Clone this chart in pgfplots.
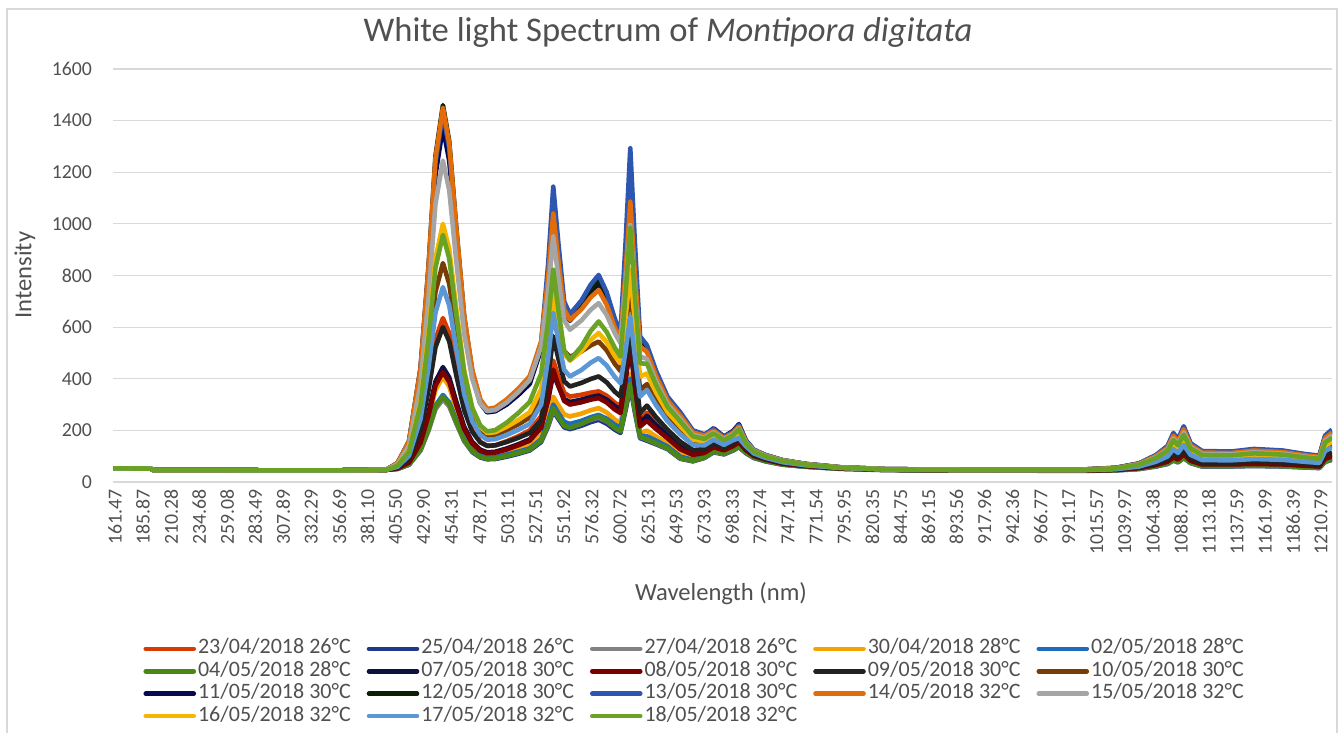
\documentclass[border=0pt]{standalone}
\usepackage{pgfplots}
\pgfplotsset{compat=1.18}
\usepackage{pgfplotstable}
\usepackage{fontspec}
\setmainfont{Carlito}
\definecolor{txt}{RGB}{80,80,80}
\definecolor{gridc}{RGB}{217,217,217}
\definecolor{cA}{RGB}{216,59,1}
\definecolor{cB}{RGB}{32,56,140}
\definecolor{cC}{RGB}{130,130,130}
\definecolor{cD}{RGB}{244,162,0}
\definecolor{cE}{RGB}{30,106,188}
\definecolor{cF}{RGB}{75,135,20}
\definecolor{cG}{RGB}{14,16,66}
\definecolor{cH}{RGB}{122,0,0}
\definecolor{cI}{RGB}{34,34,34}
\definecolor{cJ}{RGB}{120,60,5}
\definecolor{cK}{RGB}{5,10,82}
\definecolor{cL}{RGB}{12,30,6}
\definecolor{cM}{RGB}{44,86,176}
\definecolor{cN}{RGB}{227,108,10}
\definecolor{cO}{RGB}{165,165,165}
\definecolor{cP}{RGB}{246,182,0}
\definecolor{cQ}{RGB}{91,150,213}
\definecolor{cR}{RGB}{106,163,36}

\pgfplotstableread{
x A B C D E F G H I J K L M N O P Q R
161.47 53 53 53 53 53 53 53 53 53 53 53 53 53 53 53 53 53 53
194 52 52 52 52 52 52 52 52 52 52 52 52 52 52 52 52 52 52
197 46 46 46 46 46 46 46 46 46 46 46 46 46 46 46 46 46 46
254 46 46 46 46 46 46 46 46 46 46 46 46 46 46 46 46 46 46
304 45 45 45 45 45 45 45 45 45 45 45 45 45 45 45 45 45 45
354 45 45 45 45 45 45 45 45 45 45 45 45 45 45 45 45 45 45
399 47 47 47 47 47 47 47 47 47 47 47 47 47 47 47 47 47 47
409 57 51 51 52 51 51 53 53 56 61 72 73 73 73 69 64 59 63
419 92 67 67 74 68 68 77 75 89 109 151 158 156 157 141 121 102 118
429 210 123 122 146 127 125 157 152 200 270 417 441 433 438 381 312 244 300
436 375 202 199 248 209 205 269 258 356 495 790 837 821 832 717 580 443 556
442 552 286 282 356 296 290 389 373 522 736 1189 1262 1236 1253 1077 866 656 829
448.5 635 325 320 407 337 330 445 426 600 848 1375 1460 1430 1450 1245 1000 755 957
454 576 297 293 370 308 301 405 388 545 768 1244 1320 1293 1311 1130 903 684 866
460 437 230 229 284 240 234 313 300 416 581 937 992 972 988 861 676 519 653
467 289 159 160 192 168 162 214 206 278 380 609 641 629 642 573 433 341 424
474 199 116 119 137 124 119 155 150 195 260 411 430 422 434 400 287 235 287
481 155 95 99 109 102 97 125 121 154 200 305 315 309 320 304 214 182 219
487 140 88 92 100 95 90 115 112 140 180 270 278 275 283 275 190 164 196
494 142 89 93 102 96 91 117 114 142 183 274 282 280 288 279 193 166 201
504 158 98 103 112 106 101 130 126 155 201 300 312 310 320 308 214 182 230
514 177 109 114 125 117 112 146 142 171 223 337 350 351 361 348 240 202 267
524 200 122 128 140 130 125 165 160 190 250 380 395 400 410 395 270 225 310
534 255 155 162 180 165 160 215 210 240 330 515 530 540 545 525 360 300 420
540 363 215 221 255 233 223 318 323 403 515 748 775 842 793 738 545 478 621
544.5 470 275 280 330 300 286 420 435 565 700 980 1020 1144 1040 951 730 655 822
549 407 244 251 296 266 252 371 374 477 603 820 849 922 855 789 613 544 665
554 345 212 222 262 233 218 321 314 390 507 661 678 699 669 626 496 434 508
559 331 205 215 254 225 210 310 300 370 485 625 640 650 628 590 470 409 473
569 338 218 227 265 237 225 319 309 384 506 676 689 703 669 626 507 434 525
577 346 232 241 278 251 243 329 319 399 529 734 745 764 715 667 550 462 585
584 351 241 250 286 260 254 335 325 409 544 770 780 802 744 693 577 480 622
591 334 226 235 269 245 237 319 308 386 510 706 714 735 686 647 542 451 581
598 307 203 212 242 222 210 294 281 350 458 609 615 633 599 577 489 407 520
603 293 190 200 228 210 196 280 267 331 430 555 560 577 551 538 460 383 486
607.5 427 280 295 324 305 288 400 403 461 595 778 805 935 819 767 640 512 736
611.5 560 370 390 420 400 380 520 538 590 760 1000 1050 1293 1086 996 820 640 985
615.5 400 270 283 305 290 279 375 377 429 559 770 798 928 806 741 615 486 723
620 240 170 175 190 180 177 230 215 267 357 540 545 564 525 486 409 331 460
626 268 160 164 199 177 165 256 237 296 379 514 518 530 504 477 420 357 458
634 229 146 149 176 160 150 220 205 251 314 418 420 430 410 389 346 297 375
644 186 127 129 149 137 130 180 169 202 247 321 323 330 316 301 270 235 291
655 142 90 92 109 98 92 136 127 156 196 262 264 270 257 244 216 185 235
666 115 80 82 93 86 82 111 105 124 151 195 196 200 192 183 164 144 177
676 120 93 95 103 98 95 117 113 127 148 181 182 185 179 172 158 142 167
684 142 115 117 126 121 118 140 135 149 169 208 202 205 199 192 179 164 188
693 128 107 109 116 112 110 126 123 133 148 176 173 175 170 166 155 144 162
701 145 122 124 132 127 125 142 139 150 166 198 193 195 190 185 174 162 181
706 161 135 137 146 141 138 158 154 168 186 224 217 220 214 208 195 170 204
712 128 112 114 119 116 115 126 124 131 141 162 158 160 157 153 146 139 151
719 103 93 95 98 96 95 102 101 106 113 124 124 125 123 121 116 111 119
729 88 80 82 84 83 82 88 87 90 95 104 104 105 103 102 98 94 100
744 73 67 68 70 69 68 72 71 74 78 84 84 85 84 83 80 77 82
764 63 59 60 61 60 60 62 62 64 66 70 70 70 69 69 67 65 68
794 54 51 52 52 52 52 53 53 54 55 57 57 57 57 56 55 55 56
834 48 46 47 47 47 47 48 48 48 49 50 50 50 50 50 49 49 49
904 46 45 45 45 45 45 45 45 46 46 47 47 47 47 47 46 46 47
1004 45 43 44 44 44 44 45 44 45 46 48 48 48 48 47 46 46 47
1034 47 45 46 46 46 46 47 47 48 50 54 55 55 54 53 51 50 53
1054 55 50 51 53 52 52 55 54 57 61 71 71 72 70 68 64 60 67
1069 69 60 61 63 62 62 68 66 72 82 102 103 105 101 96 88 79 93
1079 83 70 71 74 72 72 81 79 88 104 136 137 140 133 126 113 99 122
1084 102 83 84 89 86 85 99 95 109 134 183 185 190 179 169 148 127 162
1088 92 76 77 81 79 78 90 87 98 118 160 161 165 156 147 130 113 142
1093 115 93 94 99 96 95 112 107 123 151 208 210 216 204 192 167 143 183
1099 87 73 74 78 76 75 85 82 92 110 145 146 150 142 135 120 105 130
1109 71 60 61 64 63 62 70 68 75 89 116 117 120 114 108 97 85 104
1134 71 60 61 64 63 62 70 68 75 88 115 115 118 112 107 96 84 103
1154 74 62 63 66 65 64 73 70 79 94 124 125 128 122 115 102 89 111
1179 72 60 61 64 63 62 70 68 76 90 118 119 122 116 110 98 86 106
1199 66 56 57 60 59 58 65 63 70 81 105 106 108 103 98 88 78 95
1211 63 54 55 58 57 56 62 60 67 77 99 100 102 97 93 84 74 90
1216 96 78 79 83 81 80 94 90 103 127 174 175 180 170 160 140 120 153
1222 107 86 87 92 89 88 104 99 115 141 196 197 203 191 180 157 134 172
}\spec

\begin{document}
\begin{tikzpicture}[x=1pt,y=1pt]
\path[use as bounding box] (0,0) rectangle (671.5,366.5);
\draw[gridc, line width=0.6pt] (3.5,-10) -- (3.5,362) -- (668.5,362) -- (668.5,-10);
\begin{axis}[
  at={(56.5pt,125.5pt)}, anchor=south west,
  width=609.5pt, height=206.5pt, scale only axis,
  xmin=161.47, xmax=1222, ymin=0, ymax=1600,
  ytick={0,200,...,1600},
  yticklabel style={/pgf/number format/1000 sep={}},
  xtick={161.47,185.87,210.28,234.68,259.08,283.49,307.89,332.29,356.69,381.10,405.50,429.90,454.31,478.71,503.11,527.51,551.92,576.32,600.72,625.13,649.53,673.93,698.33,722.74,747.14,771.54,795.95,820.35,844.75,869.15,893.56,917.96,942.36,966.77,991.17,1015.57,1039.97,1064.38,1088.78,1113.18,1137.59,1161.99,1186.39,1210.79},
  xticklabels={161.47,185.87,210.28,234.68,259.08,283.49,307.89,332.29,356.69,381.10,405.50,429.90,454.31,478.71,503.11,527.51,551.92,576.32,600.72,625.13,649.53,673.93,698.33,722.74,747.14,771.54,795.95,820.35,844.75,869.15,893.56,917.96,942.36,966.77,991.17,1015.57,1039.97,1064.38,1088.78,1113.18,1137.59,1161.99,1186.39,1210.79},
  axis lines*=left,
  y axis line style={draw=none},
  x axis line style={draw=gridc, line width=0.6pt},
  ymajorgrids, grid style={draw=gridc, line width=0.6pt},
  major tick length=0pt,
  tick label style={font=\fontsize{9.9}{11}\selectfont, text=txt},
  /pgf/number format/assume math mode=true,
  /pgf/number format/1000 sep={},
  yticklabel style={xshift=-7pt},
  xticklabel style={rotate=90, anchor=east, yshift=-1pt},
  legend columns=5,
  legend cell align=left,
  legend style={at={(0.025,-0.377)}, anchor=north west, draw=none, fill=none,
    font=\fontsize{11}{12}\selectfont, text=txt, inner sep=0pt, outer sep=0pt,
    /tikz/every even column/.append style={column sep=7pt},
    nodes={inner sep=1pt, text height=7.1pt, text depth=2.1pt}},
  legend image code/.code={\draw[#1, line width=2.3pt, line cap=round] (0pt,0pt) -- (24pt,0pt);},
  every axis plot/.append style={line width=2.3pt, line join=round, mark=none},
]
\addplot[cA] table[x=x,y=A]{\spec}; \addlegendentry{23/04/2018 26°C}
\addplot[cB] table[x=x,y=B]{\spec}; \addlegendentry{25/04/2018 26°C}
\addplot[cC] table[x=x,y=C]{\spec}; \addlegendentry{27/04/2018 26°C}
\addplot[cD] table[x=x,y=D]{\spec}; \addlegendentry{30/04/2018 28°C}
\addplot[cE] table[x=x,y=E]{\spec}; \addlegendentry{02/05/2018 28°C}
\addplot[cF] table[x=x,y=F]{\spec}; \addlegendentry{04/05/2018 28°C}
\addplot[cG] table[x=x,y=G]{\spec}; \addlegendentry{07/05/2018 30°C}
\addplot[cH] table[x=x,y=H]{\spec}; \addlegendentry{08/05/2018 30°C}
\addplot[cI] table[x=x,y=I]{\spec}; \addlegendentry{09/05/2018 30°C}
\addplot[cJ] table[x=x,y=J]{\spec}; \addlegendentry{10/05/2018 30°C}
\addplot[cK] table[x=x,y=K]{\spec}; \addlegendentry{11/05/2018 30°C}
\addplot[cL] table[x=x,y=L]{\spec}; \addlegendentry{12/05/2018 30°C}
\addplot[cM] table[x=x,y=M]{\spec}; \addlegendentry{13/05/2018 30°C}
\addplot[cN] table[x=x,y=N]{\spec}; \addlegendentry{14/05/2018 32°C}
\addplot[cO] table[x=x,y=O]{\spec}; \addlegendentry{15/05/2018 32°C}
\addplot[cP] table[x=x,y=P]{\spec}; \addlegendentry{16/05/2018 32°C}
\addplot[cQ] table[x=x,y=Q]{\spec}; \addlegendentry{17/05/2018 32°C}
\addplot[cR] table[x=x,y=R]{\spec}; \addlegendentry{18/05/2018 32°C}
\end{axis}
\node[font=\fontsize{17.3}{20}\selectfont, text=txt] at (334,350.5) {White light Spectrum of \textit{Montipora digitata}};
\node[font=\fontsize{12.3}{14}\selectfont, text=txt] at (360.5,69.5) {Wavelength (nm)};
\node[font=\fontsize{12.3}{14}\selectfont, text=txt, rotate=90] at (12.5,229) {Intensity};
\end{tikzpicture}
\end{document}
